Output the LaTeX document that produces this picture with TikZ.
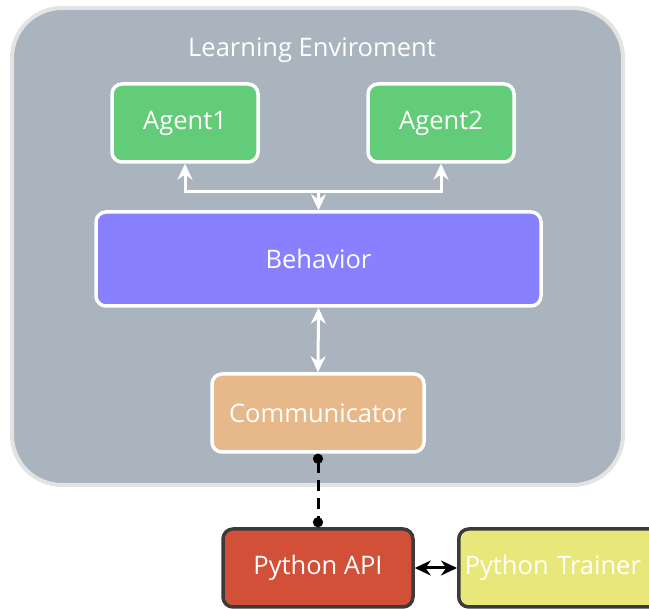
\documentclass[tikz,border=0pt]{standalone}
\usepackage{fontspec}
\setmainfont{Open Sans}
\usepackage{tikz}
\usetikzlibrary{arrows.meta,positioning}

\definecolor{envfill}{HTML}{A9B4BE}
\definecolor{envline}{HTML}{E3E3E3}
\definecolor{agentfill}{HTML}{62CC78}
\definecolor{behavfill}{HTML}{8880FF}
\definecolor{commfill}{HTML}{E6B88A}
\definecolor{apifill}{HTML}{D24F38}
\definecolor{trainfill}{HTML}{E8E87A}
\definecolor{darkline}{HTML}{3B3B3B}

\begin{document}
\begin{tikzpicture}
    [
    x=1pt, y=-1pt,
    box/.style = {draw=white, line width=3.5pt, rectangle, rounded corners=10pt, text=white, inner sep=0pt, font=\fontsize{25.5}{30}\selectfont},
    darkbox/.style = {box, draw=darkline},
    both/.style = {{Stealth[length=16pt,width=15pt]}-{Stealth[length=16pt,width=15pt]}, white, line width=3pt},
    single/.style = {-{Stealth[length=16pt,width=15pt]}, white, line width=3pt},
    dotted link/.style = {{Circle[length=10pt]}-{Circle[length=10pt]}, black, line width=3pt, dash pattern=on 11pt off 7pt}
    ]
    \useasboundingbox (0,0) rectangle (649,609);

% Environment
    \node[draw=envline, fill=envfill, line width=4pt, rounded corners=50pt, minimum width=611pt, minimum height=477pt] (env) at (317.5,246.5) {};
    \node[text=white, font=\fontsize{25.5}{30}\selectfont] (title) at (312,50) {Learning Enviroment};

% Nodes
    \node[box, fill=agentfill, minimum width=146pt, minimum height=78pt] (agent1) at (185,123) {Agent1};
    \node[box, fill=agentfill, minimum width=146pt, minimum height=78pt] (agent2) at (441,123) {Agent2};
    \node[box, fill=behavfill, minimum width=445pt, minimum height=94pt] (behavior) at (318.5,259) {Behavior};
    \node[box, fill=commfill, minimum width=212pt, minimum height=78pt] (comm) at (318,413) {Communicator};
    \node[darkbox, fill=apifill, minimum width=190pt, minimum height=78pt] (api) at (318,568) {Python API};
    \node[darkbox, fill=trainfill, minimum width=240pt, minimum height=78pt, inner xsep=5pt, align=left, text width=228pt, anchor=west] (trainer) at (457,568) {Python Trainer};
    \coordinate[above=19pt of behavior.north] (bus);

% Arrows
    \draw[both] (agent1.south) |- (bus) -| (agent2.south);
    \draw[single] (bus) -- (behavior.north);
    \draw[both] (behavior.south) -- (comm.north);
    \draw[dotted link] (comm.south) -- (api.north);
    \draw[both, black] (api.east) -- (trainer.west);

\end{tikzpicture}
\end{document}
